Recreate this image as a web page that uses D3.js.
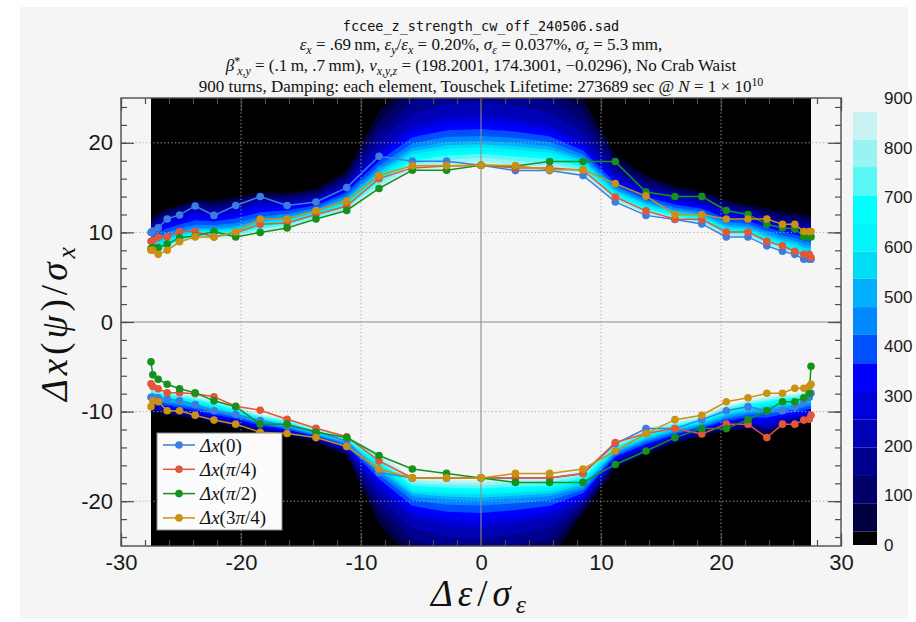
<!DOCTYPE html>
<html>
<head>
<meta charset="utf-8">
<script src="https://cdn.jsdelivr.net/npm/d3@7"></script>
<style>
  html, body { margin: 0; padding: 0; background: #ffffff; }
  svg { display: block; }
</style>
</head>
<body>
<svg id="chart" width="916" height="622"></svg>
<script>
// ---------------- data ----------------
// momentum offsets of the scan (units of sigma_epsilon)
const eps = [-27.5, -27.35, -26.9, -26.15, -25.12, -23.82, -22.25, -20.44, -18.4, -16.16, -13.75, -11.19, -8.5, -5.72, -2.87,
             0, 2.87, 5.72, 8.5, 11.19, 13.75, 16.16, 18.4, 20.44, 22.25, 23.82, 25.12, 26.15, 26.9, 27.35, 27.5];

// dynamic aperture, positive side (units of sigma_x)
const upperPsi0   = [10.0, 10.15, 10.5, 11.5, 11.95, 12.95, 11.9, 13.0, 14.0, 13.0, 13.4, 15.0, 18.5, 17.95, 17.95,
                     17.5, 16.9, 16.9, 16.35, 13.4, 11.9, 11.45, 10.95, 9.5, 9.5, 8.5, 7.9, 7.55, 7.0, 7.0, 7.0];
const upperPsi45  = [9.0, 9.1, 9.45, 9.5, 10.1, 10.1, 9.5, 9.95, 10.9, 11.05, 12.0, 12.95, 16.0, 17.2, 17.4,
                     17.5, 17.2, 17.2, 16.95, 13.95, 12.4, 11.5, 11.45, 10.05, 10.05, 9.0, 8.5, 7.9, 7.55, 7.55, 7.2];
const upperPsi90  = [8.2, 8.3, 8.3, 8.7, 9.4, 9.6, 10.1, 9.5, 10.0, 10.5, 11.5, 12.45, 14.9, 16.95, 16.95,
                     17.5, 17.4, 17.9, 17.9, 17.9, 14.5, 14.0, 14.0, 12.45, 12.0, 10.9, 10.5, 10.4, 9.5, 9.5, 9.5];
const upperPsi135 = [8.0, 8.0, 7.55, 8.0, 8.95, 9.5, 9.5, 10.05, 11.5, 11.5, 12.45, 13.5, 16.35, 17.45, 17.45,
                     17.5, 17.45, 17.0, 17.0, 15.45, 14.05, 12.0, 12.0, 11.5, 11.5, 11.5, 10.9, 10.9, 10.1, 10.1, 10.1];

// dynamic aperture, negative side (units of sigma_x)
const lowerPsi0   = [-8.4, -8.4, -8.45, -8.6, -8.8, -9.2, -9.9, -10.3, -11.0, -11.6, -12.2, -13.3, -16.8, -17.4, -17.4,
                     -17.4, -17.4, -17.4, -16.9, -13.6, -11.9, -11.9, -10.9, -9.9, -9.45, -9.9, -9.9, -9.5, -8.9, -8.4, -7.95];
const lowerPsi45  = [-6.9, -7.2, -7.45, -7.9, -7.9, -8.0, -8.35, -9.4, -9.85, -10.85, -11.85, -12.8, -15.5, -17.4, -17.4,
                     -17.4, -17.4, -17.4, -16.9, -13.45, -12.45, -11.9, -12.5, -11.4, -11.4, -12.9, -11.4, -11.4, -10.95, -10.85, -10.4];
const lowerPsi90  = [-4.45, -5.9, -6.4, -6.95, -7.45, -7.9, -8.8, -9.45, -11.4, -11.4, -12.3, -12.9, -14.9, -16.4, -16.9,
                     -17.4, -17.9, -17.9, -17.9, -15.9, -14.4, -12.9, -11.9, -11.9, -10.9, -9.9, -8.9, -8.9, -8.45, -7.95, -4.95];
const lowerPsi135 = [-9.45, -8.8, -8.9, -9.9, -9.9, -10.4, -10.95, -11.4, -12.3, -12.45, -12.9, -13.9, -16.4, -17.4, -17.4,
                     -17.4, -16.9, -16.9, -16.4, -14.4, -12.45, -10.9, -10.4, -8.9, -8.45, -7.95, -7.95, -7.4, -7.4, -7.2, -6.95];

const seriesColors = ["#3d7de0", "#e2563a", "#16911c", "#c99212"];

// surviving-turn map: positions (sigma_x) of the turn levels in each eps column
const turnLevels = [900, 700, 450, 250, 0];
const upEdge = [7.8, 7.8, 7.5, 7.9, 8.7, 9.2, 9.3, 9.4, 9.9, 10.4, 11.3, 12.3, 14.7, 16.8, 16.9,
                17.3, 16.8, 16.8, 16.2, 13.3, 11.8, 11.3, 10.8, 9.4, 9.4, 8.4, 7.8, 7.4, 6.9, 6.9, 6.9];
const up700  = [8.4, 8.4, 8.3, 8.6, 9.2, 9.7, 9.8, 9.9, 10.6, 11.0, 11.9, 13.0, 15.8, 18.0, 18.6,
                18.8, 18.5, 18.2, 17.3, 14.0, 12.6, 11.9, 11.4, 10.0, 9.9, 9.0, 8.4, 8.0, 7.4, 7.3, 7.3];
const up450  = [9.4, 9.4, 9.5, 9.8, 10.2, 10.6, 10.6, 10.8, 11.5, 11.9, 12.6, 14.0, 17.2, 19.6, 20.3,
                20.4, 20.2, 19.8, 18.5, 15.0, 13.5, 12.6, 12.2, 11.0, 10.8, 10.0, 9.5, 9.2, 8.8, 8.7, 8.7];
const up250  = [10.4, 10.5, 10.9, 11.4, 11.8, 12.4, 12.1, 12.6, 13.3, 13.2, 13.6, 15.2, 19.0, 22.0, 22.9,
                23.1, 22.7, 22.0, 20.0, 16.3, 14.6, 13.8, 13.3, 12.3, 12.0, 11.3, 10.8, 10.6, 10.3, 10.2, 10.2];
const up0    = [11.5, 11.8, 12.3, 12.8, 13.2, 13.8, 13.7, 14.1, 14.6, 14.5, 15.0, 17.0, 24.0, 28.0, 29.5,
                29.5, 29.5, 28.0, 25.5, 19.0, 16.5, 15.3, 14.7, 13.8, 13.2, 12.8, 12.5, 12.4, 12.2, 12.0, 12.0];
const loEdge = [-7.2, -7.4, -7.5, -7.7, -7.8, -8.1, -8.6, -9.3, -10.2, -10.7, -11.8, -12.6, -14.5, -17.2, -17.4,
                -17.5, -17.2, -17.2, -16.4, -13.4, -11.8, -11.0, -10.4, -9.2, -8.6, -8.2, -8.0, -7.9, -7.7, -7.5, -7.5];
const lo700  = [-7.7, -7.9, -8.0, -8.2, -8.4, -8.7, -9.2, -9.8, -10.7, -11.2, -12.2, -13.1, -15.6, -18.3, -18.5,
                -18.6, -18.4, -18.3, -17.4, -14.0, -12.5, -11.6, -10.9, -9.8, -9.2, -8.9, -8.6, -8.5, -8.3, -8.1, -8.1];
const lo450  = [-8.6, -8.7, -8.8, -9.0, -9.2, -9.5, -10.0, -10.5, -11.3, -11.8, -12.6, -13.6, -16.8, -19.6, -20.0,
                -20.1, -19.9, -19.6, -18.6, -14.7, -13.3, -12.3, -11.6, -10.7, -10.2, -10.0, -9.8, -9.6, -9.4, -9.2, -9.2];
const lo250  = [-9.4, -9.5, -9.6, -9.8, -10.0, -10.3, -10.8, -11.2, -11.9, -12.3, -13.0, -14.2, -18.5, -21.8, -22.8,
                -23.0, -22.5, -21.8, -19.8, -15.5, -14.1, -13.0, -12.2, -11.5, -11.2, -11.6, -11.0, -10.7, -10.5, -10.4, -10.4];
const lo0    = [-10.2, -10.2, -10.3, -10.4, -10.6, -10.9, -11.3, -11.8, -12.4, -12.7, -13.4, -15.0, -23.0, -27.5, -28.5,
                -28.5, -28.0, -27.0, -21.5, -16.4, -14.9, -13.6, -12.8, -12.2, -12.1, -12.8, -11.8, -11.5, -11.4, -11.3, -11.3];

// colour bands of the turn map
const bandThresholds = [0, 27, 83, 139, 196, 253, 310, 366, 423, 479, 536, 591, 648, 704, 761, 816, 872];
const bandColors = ["#000000", "#000040", "#000068", "#00008e", "#0000b4", "#0000dc", "#0000ff", "#0050ff",
                    "#0088ff", "#00b0ff", "#00dcf4", "#00f4f8", "#00ffff", "#5af7f7", "#99f3f3", "#c9f3f3"];
const colorbarTicks = [0, 100, 200, 300, 400, 500, 600, 700, 800, 900];

const xMajor = [-30, -20, -10, 0, 10, 20, 30];
const yMajor = [-20, -10, 0, 10, 20];
const xGrid = [-20, -10, 10, 20];
const yGrid = [-20, -10, 10, 20];

// ---------------- drawing ----------------
const BG = "#f4f5f4";
const SERIF = "'Liberation Serif', 'Times New Roman', serif";
const SANS = "'Liberation Sans', Arial, sans-serif";
const svg = d3.select("#chart");

svg.append("rect").attr("x", 20).attr("y", 7).attr("width", 888).attr("height", 612).attr("fill", BG);

const x = d3.scaleLinear().domain([-30, 30]).range([121, 841]);
const y = d3.scaleLinear().domain([-25, 25]).range([546, 98]);
const epsMin = eps[0], epsMax = eps[eps.length - 1];

// ---- turn map on a regular grid ----
const step = 0.25;
const nx = Math.round((epsMax - epsMin) / step) + 1;
const ny = Math.round(50 / step) + 1;
function colValue(arr, e) {
  let i = d3.bisectRight(eps, e) - 1;
  i = Math.max(0, Math.min(eps.length - 2, i));
  const t = Math.max(0, Math.min(1, (e - eps[i]) / (eps[i + 1] - eps[i])));
  return arr[i] + (arr[i + 1] - arr[i]) * t;
}
const grid = new Float64Array(nx * ny);
for (let i = 0; i < nx; i++) {
  const e = epsMin + i * step;
  const upPos = [upEdge, up700, up450, up250, up0].map(a => colValue(a, e));
  const loPos = [loEdge, lo700, lo450, lo250, lo0].map(a => colValue(a, e));
  const upTurns = d3.scaleLinear().domain(upPos).range(turnLevels).clamp(true);
  const loTurns = d3.scaleLinear().domain(loPos).range(turnLevels).clamp(true);
  for (let j = 0; j < ny; j++) {
    const v = -25 + j * step;
    let turns;
    if (v >= upPos[0]) turns = upTurns(v);
    else if (v <= loPos[0]) turns = loTurns(v);
    else turns = 900;
    grid[j * nx + i] = turns;
  }
}
const toPlot = d3.geoTransform({
  point: function (gx, gy) {
    const e = Math.max(epsMin, Math.min(epsMax, epsMin + (gx - 0.5) * step));
    const v = Math.max(-25, Math.min(25, -25 + (gy - 0.5) * step));
    this.stream.point(x(e), y(v));
  }
});
const contourPath = d3.geoPath(toPlot);
const contours = d3.contours().size([nx, ny]).thresholds(bandThresholds)(grid);
svg.append("g").selectAll("path").data(contours).join("path")
  .attr("d", contourPath)
  .attr("fill", (d, i) => i < bandColors.length ? bandColors[i] : BG);

// ---- grid and zero lines ----
const gridG = svg.append("g").attr("stroke", "#a9a9a9").attr("stroke-width", 1).attr("stroke-dasharray", "1.2,2.4");
gridG.selectAll(".gx").data(xGrid).join("line")
  .attr("x1", d => x(d)).attr("x2", d => x(d)).attr("y1", y(25)).attr("y2", y(-25));
gridG.selectAll(".gy").data(yGrid).join("line")
  .attr("y1", d => y(d)).attr("y2", d => y(d)).attr("x1", x(-30)).attr("x2", x(30));
svg.append("line").attr("x1", x(0)).attr("x2", x(0)).attr("y1", y(25)).attr("y2", y(-25))
  .attr("stroke", "#8c8c8c").attr("stroke-width", 1.1);
svg.append("line").attr("y1", y(0)).attr("y2", y(0)).attr("x1", x(-30)).attr("x2", x(30))
  .attr("stroke", "#8c8c8c").attr("stroke-width", 1.1);

// ---- aperture curves ----
const series = [
  { color: seriesColors[0], upper: upperPsi0, lower: lowerPsi0 },
  { color: seriesColors[1], upper: upperPsi45, lower: lowerPsi45 },
  { color: seriesColors[2], upper: upperPsi90, lower: lowerPsi90 },
  { color: seriesColors[3], upper: upperPsi135, lower: lowerPsi135 }
];
const line = d3.line().x(d => x(d[0])).y(d => y(d[1]));
series.forEach(s => {
  const g = svg.append("g");
  [s.upper, s.lower].forEach(vals => {
    const pts = eps.map((e, i) => [e, vals[i]]);
    g.append("path").attr("d", line(pts)).attr("fill", "none")
      .attr("stroke", s.color).attr("stroke-width", 1.5);
    g.selectAll(null).data(pts).join("circle")
      .attr("cx", d => x(d[0])).attr("cy", d => y(d[1])).attr("r", 3.8).attr("fill", s.color);
  });
});

// ---- frame and ticks ----
const frameColor = "#4d4d4d";
function minorTicks(lo, hi) { return d3.range(lo, hi + 0.001, 2); }
const axisG = svg.append("g").attr("color", frameColor);
axisG.append("g").attr("transform", `translate(0,${y(-25)})`)
  .call(d3.axisBottom(x).tickValues(xMajor).tickSize(-13).tickPadding(8).tickFormat(d => String(d)))
  .call(g => g.select(".domain").remove())
  .call(g => g.selectAll("text").attr("font-family", SANS).attr("font-size", 22).attr("fill", "#1a1a1a"));
axisG.append("g").attr("transform", `translate(0,${y(-25)})`)
  .call(d3.axisBottom(x).tickValues(minorTicks(-30, 30)).tickSize(-6).tickFormat(""))
  .call(g => g.select(".domain").remove());
axisG.append("g").attr("transform", `translate(0,${y(25)})`)
  .call(d3.axisTop(x).tickValues(xMajor).tickSize(-13).tickFormat(""))
  .call(g => g.select(".domain").remove());
axisG.append("g").attr("transform", `translate(0,${y(25)})`)
  .call(d3.axisTop(x).tickValues(minorTicks(-30, 30)).tickSize(-6).tickFormat(""))
  .call(g => g.select(".domain").remove());
axisG.append("g").attr("transform", `translate(${x(-30)},0)`)
  .call(d3.axisLeft(y).tickValues(yMajor).tickSize(-13).tickPadding(8).tickFormat(d => String(d)))
  .call(g => g.select(".domain").remove())
  .call(g => g.selectAll("text").attr("font-family", SANS).attr("font-size", 22).attr("fill", "#1a1a1a"));
axisG.append("g").attr("transform", `translate(${x(-30)},0)`)
  .call(d3.axisLeft(y).tickValues(minorTicks(-24, 24)).tickSize(-6).tickFormat(""))
  .call(g => g.select(".domain").remove());
axisG.append("g").attr("transform", `translate(${x(30)},0)`)
  .call(d3.axisRight(y).tickValues(yMajor).tickSize(-13).tickFormat(""))
  .call(g => g.select(".domain").remove());
axisG.append("g").attr("transform", `translate(${x(30)},0)`)
  .call(d3.axisRight(y).tickValues(minorTicks(-24, 24)).tickSize(-6).tickFormat(""))
  .call(g => g.select(".domain").remove());
axisG.selectAll("line").attr("stroke-width", 1.2);
svg.append("rect").attr("x", x(-30)).attr("y", y(25)).attr("width", x(30) - x(-30)).attr("height", y(-25) - y(25))
  .attr("fill", "none").attr("stroke", frameColor).attr("stroke-width", 1.4);

// ---- rich text helper (italic / sub / sup segments) ----
function richText(parent, px, py, segs, size, family, anchor, subShift) {
  const t = parent.append("text").attr("x", px).attr("y", py)
    .attr("text-anchor", anchor || "middle").attr("font-family", family)
    .attr("font-size", size).attr("fill", "#111");
  let shift = 0;
  segs.forEach(s => {
    const seg = typeof s === "string" ? { t: s } : s;
    let target = 0, fs = size;
    if (seg.sub) { target = (subShift || 0.3) * size; fs = 0.7 * size; }
    if (seg.sup) { target = -0.38 * size; fs = 0.7 * size; }
    const ts = t.append("tspan").text(seg.t).attr("dy", target - shift).attr("font-size", fs);
    if (seg.i) ts.attr("font-style", "italic");
    if (seg.dx) ts.attr("dx", seg.dx);
    shift = target;
  });
  return t;
}

// ---- titles ----
const cx = x(0);
const titleSize = 17;
svg.append("text").attr("x", cx).attr("y", 31).attr("text-anchor", "middle")
  .attr("font-family", "'DejaVu Sans Mono', 'Liberation Mono', monospace").attr("font-size", 13.5).attr("fill", "#111")
  .text("fccee_z_strength_cw_off_240506.sad");
richText(svg, cx, 50, [
  { t: "ε", i: 1 }, { t: "x", i: 1, sub: 1 }, " = .69\u2009nm, ",
  { t: "ε", i: 1 }, { t: "y", i: 1, sub: 1 }, "/", { t: "ε", i: 1 }, { t: "x", i: 1, sub: 1 }, " = 0.20%, ",
  { t: "σ", i: 1 }, { t: "ε", i: 1, sub: 1 }, " = 0.037%, ",
  { t: "σ", i: 1 }, { t: "z", i: 1, sub: 1 }, " = 5.3\u2009mm,"
], titleSize, SERIF, "middle", 0.25);
richText(svg, cx, 71, [
  { t: "β", i: 1 }, { t: "*", sup: 1 }, { t: "x,y", i: 1, sub: 1, dx: -3 }, " = (.1\u2009m, .7\u2009mm), ",
  { t: "ν", i: 1 }, { t: "x,y,z", i: 1, sub: 1 }, " = (198.2001, 174.3001, −0.0296), No Crab Waist"
], titleSize, SERIF, "middle", 0.25);
richText(svg, cx, 92, [
  "900 turns, Damping: each element, Touschek Lifetime: 273689 sec @ ",
  { t: "N", i: 1 }, " = 1 × 10", { t: "10", sup: 1 }
], titleSize, SERIF);

// ---- axis titles ----
const xLab = richText(svg, cx, 606, [{ t: "Δε", i: 1 }, "/", { t: "σ", i: 1 }, { t: "ε", i: 1, sub: 1 }], 37, SERIF, "middle", 0.2);
xLab.attr("letter-spacing", 5);
const yLabG = svg.append("g").attr("transform", "translate(67,322) rotate(-90)");
const yLab = richText(yLabG, 0, 0, [{ t: "Δx", i: 1 }, "(", { t: "ψ", i: 1 }, ")/", { t: "σ", i: 1 }, { t: "x", i: 1, sub: 1 }], 37, SERIF, "middle", 0.22);
yLab.attr("letter-spacing", 4);

// ---- legend ----
const legendLabels = [
  [{ t: "Δx", i: 1 }, "(0)"],
  [{ t: "Δx", i: 1 }, "(", { t: "π", i: 1 }, "/4)"],
  [{ t: "Δx", i: 1 }, "(", { t: "π", i: 1 }, "/2)"],
  [{ t: "Δx", i: 1 }, "(3", { t: "π", i: 1 }, "/4)"]
];
const lg = svg.append("g");
lg.append("rect").attr("x", 157).attr("y", 433).attr("width", 125).attr("height", 97)
  .attr("fill", "#fbfbfb").attr("stroke", "#8a8a8a").attr("stroke-width", 1);
legendLabels.forEach((lab, i) => {
  const ly = 445 + i * 24.3;
  lg.append("line").attr("x1", 163).attr("x2", 195).attr("y1", ly).attr("y2", ly)
    .attr("stroke", seriesColors[i]).attr("stroke-width", 1.5);
  lg.append("circle").attr("cx", 179).attr("cy", ly).attr("r", 3.8).attr("fill", seriesColors[i]);
  richText(lg, 200, ly + 6.5, lab, 19, SERIF, "start");
});

// ---- colour bar ----
const cb = d3.scaleLinear().domain([0, 900]).range([545, 98]);
const cbG = svg.append("g");
cbG.selectAll("rect").data(bandColors).join("rect")
  .attr("x", 853).attr("width", 24)
  .attr("y", (d, i) => cb(bandThresholds[i + 1]))
  .attr("height", (d, i) => cb(bandThresholds[i]) - cb(bandThresholds[i + 1]))
  .attr("fill", d => d);
cbG.selectAll("text").data(colorbarTicks).join("text")
  .attr("x", 884).attr("y", d => cb(d)).attr("dy", "0.36em")
  .attr("font-family", SANS).attr("font-size", 17).attr("fill", "#1a1a1a")
  .text(d => d);
</script>
</body>
</html>
